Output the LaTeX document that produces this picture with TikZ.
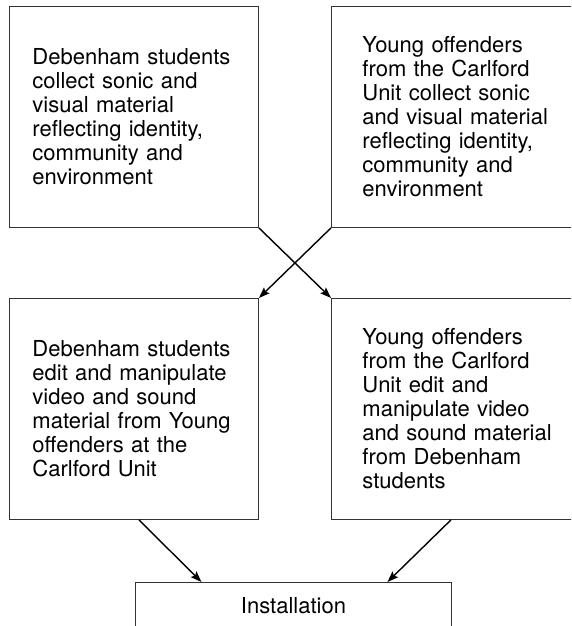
\documentclass[tikz,border=0pt]{standalone}
\usepackage{fontspec}
\setmainfont{TeX Gyre Heros}
\usetikzlibrary{arrows.meta}

\tikzset{
  etapa/.style={draw=black!80, line width=0.9pt, rectangle, align=left,
    text width=203pt, inner xsep=0pt, minimum height=221pt,
    font=\fontsize{22}{24}\selectfont, anchor=north west},
  flecha/.style={-{Stealth[length=11pt,width=8pt,inset=2pt]}, line width=1.4pt}
}

\begin{document}
\begin{tikzpicture}[x=1pt,y=-1pt]
        \useasboundingbox (0,0) rectangle (571,626);
        \clip (0,0) rectangle (571,626);

        % Recogida de material
        \node[etapa, minimum width=249pt] (recogeD) at (9,6)
            {Debenham students\\collect sonic and\\visual material\\reflecting identity,\\community and\\environment};
        \node[etapa, minimum width=265pt] (recogeC) at (331,6)
            {Young offenders\\from the Carlford\\Unit collect sonic\\and visual material\\reflecting identity,\\community and\\environment};

        % Edicion del material
        \node[etapa, minimum width=249pt] (editaD) at (9,298)
            {Debenham students\\edit and manipulate\\video and sound\\material from Young\\offenders at the\\Carlford Unit};
        \node[etapa, minimum width=265pt] (editaC) at (331,298)
            {Young offenders\\from the Carlford\\Unit edit and\\manipulate video\\and sound material\\from Debenham\\students};

        % Instalacion
        \node[draw=black!80, line width=0.9pt, minimum width=316pt, minimum height=46pt,
            anchor=north west, font=\fontsize{22}{24}\selectfont] (inst) at (135,582) {Installation};

        % Flechas cruzadas
        \draw[flecha] (recogeD.south east) -- (editaC.north west);
        \draw[flecha] (recogeC.south west) -- (editaD.north east);

        % Flechas a la instalacion
        \draw[flecha] ([xshift=5pt]editaD.south) -- ([xshift=-92pt]inst.north);
        \draw[flecha] ([xshift=-13pt]editaC.south) -- ([xshift=94pt]inst.north);
\end{tikzpicture}
\end{document}
